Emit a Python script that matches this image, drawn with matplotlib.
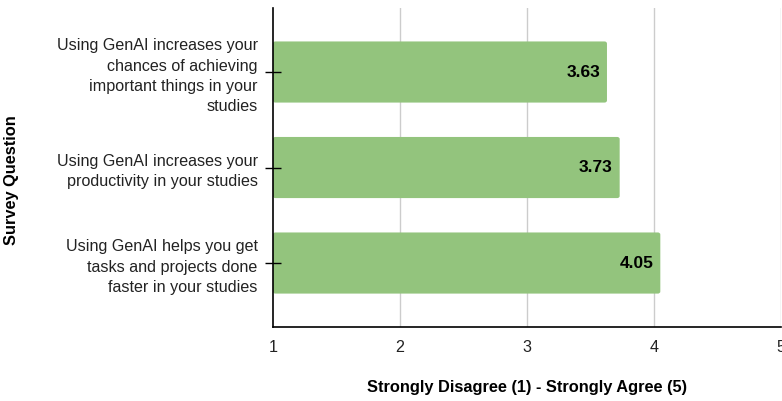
import matplotlib.pyplot as plt
from matplotlib.patches import FancyBboxPatch

plt.rcParams["font.family"] = ["Liberation Sans", "DejaVu Sans"]

# survey questions, top to bottom, with their mean scores
questions = [
    "Using GenAI increases your\nchances of achieving\nimportant things in your\nstudies",
    "Using GenAI increases your\nproductivity in your studies",
    "Using GenAI helps you get\ntasks and projects done\nfaster in your studies",
]
scores = [3.63, 3.73, 4.05]
x_ticks = [1, 2, 3, 4, 5]

bar_color = "#93c47d"
bar_h = 0.64

fig = plt.figure(figsize=(7.82, 4.01), dpi=100)
ax = fig.add_axes([0.349, 0.1845, 0.6497, 0.7955])

# vertical gridlines under the bars
for x in x_ticks[1:]:
    ax.axvline(x, color="#cccccc", linewidth=1, zorder=0.5)

ypos = list(range(len(questions)))
for y, s in zip(ypos, scores):
    # rounded bar, anchored at the axis minimum
    patch = FancyBboxPatch((x_ticks[0], y - bar_h / 2), s - x_ticks[0], bar_h,
                           boxstyle="round,pad=0,rounding_size=0.02",
                           mutation_aspect=1 / 0.9,
                           facecolor=bar_color, edgecolor="none", zorder=1)
    ax.add_patch(patch)
    ax.text(s - 0.055, y, f"{s:.2f}", ha="right", va="center",
            fontsize=12.5, fontweight="bold", color="black", zorder=3)

ax.set_xlim(x_ticks[0], x_ticks[-1])
ax.set_ylim(len(questions) - 0.33, -0.67)
ax.set_xticks(x_ticks)
ax.set_yticks(ypos)
ax.set_yticklabels(questions, fontsize=11.6, linespacing=1.45, color="#222222")

for side in ("top", "right"):
    ax.spines[side].set_visible(False)
for side in ("left", "bottom"):
    ax.spines[side].set_color("black")
    ax.spines[side].set_linewidth(1.2)

ax.tick_params(axis="y", direction="inout", length=12, width=1, pad=5)
ax.tick_params(axis="x", length=0, pad=9, labelsize=11.6, labelcolor="#222222")

ax.set_xlabel("Strongly Disagree (1) - Strongly Agree (5)", fontsize=11.8,
              fontweight="bold", labelpad=18)
ax.set_ylabel("Survey Question", fontsize=11.8, fontweight="bold")
ax.yaxis.set_label_coords(-0.50, 0.46)

fig.savefig("out.png", dpi=100)
